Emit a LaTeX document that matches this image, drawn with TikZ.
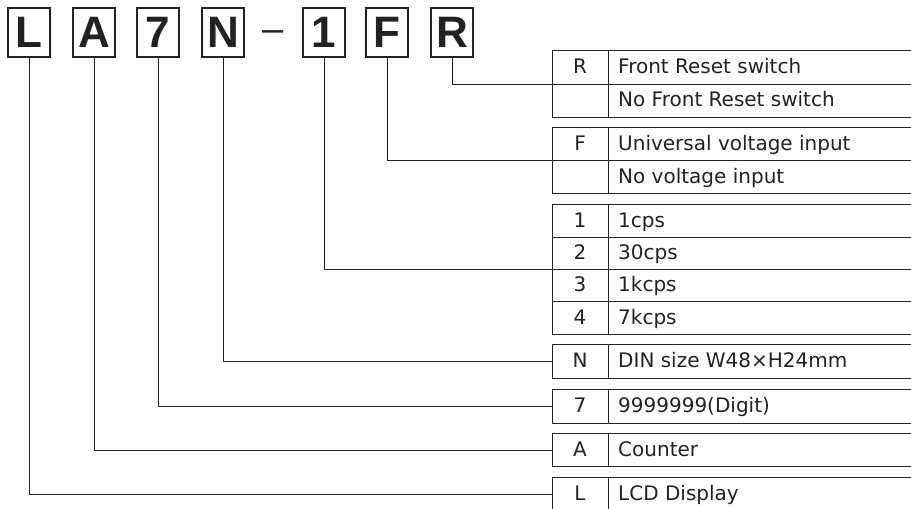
\documentclass[tikz,border=0pt]{standalone}
\usepackage{fontspec}
\usetikzlibrary{positioning,calc}
\newfontfamily\boxfont{Liberation Sans}
\newfontfamily\tabfont{DejaVu Sans}
\definecolor{ink}{HTML}{222222}

\begin{document}
\begin{tikzpicture}[x=1pt,y=-1pt,
  letter/.style={draw=ink,line width=1.5pt,minimum width=42pt,minimum height=49pt,inner sep=0pt,
    text=ink,font=\boxfont\bfseries\fontsize{44}{44}\selectfont},
  hyphen/.style={anchor=base,inner sep=0pt,text=ink,font=\boxfont\fontsize{38}{38}\selectfont},
  frame/.style={draw=ink,line width=1.3pt,anchor=north west,minimum width=400pt,inner sep=0pt},
  grid/.style={draw=ink,line width=0.7pt},
  code/.style={anchor=base,inner sep=0pt,text=ink,font=\tabfont\fontsize{20}{20}\selectfont},
  desc/.style={anchor=base west,inner sep=0pt,text=ink,font=\tabfont\fontsize{20}{20}\selectfont},
  link/.style={draw=ink,line width=0.9pt}]
\useasboundingbox (0,0) rectangle (911,509);
\clip (0,0) rectangle (911,509);

% model code boxes
\node[letter] (bL) at (29,32.5) {L};
\node[letter,right=21.5pt of bL] (bA) {A};
\node[letter,right=20.5pt of bA] (b7) {7};
\node[letter,right=21.5pt of b7] (bN) {N};
\node[hyphen] (hy) at (273,41) {–};
\node[letter,right=57.5pt of bN] (b1) {1};
\node[letter,right=19.5pt of b1] (bF) {F};
\node[letter,right=21.5pt of bF] (bR) {R};

% option tables
\node[frame,minimum height=67pt] (tR) at (552,50) {};
\node[frame,minimum height=66pt] (tF) at (552,127) {};
\node[frame,minimum height=130pt] (t1) at (552,204) {};
\node[frame,minimum height=34pt] (tN) at (552,344) {};
\node[frame,minimum height=34pt] (t7) at (552,389) {};
\node[frame,minimum height=33pt] (tA) at (552,433) {};
\node[frame,minimum height=33pt] (tL) at (552,477) {};

\foreach \t in {tR,tF,t1,tN,t7,tA,tL}
  \draw[grid] ($(\t.north west)+(56,0)$) -- ($(\t.south west)+(56,0)$);
\draw[grid] (tR.west) -- (tR.east);
\draw[grid] (tF.west) -- (tF.east);
\foreach \y in {237,269,301}
  \draw[grid] (552,\y) -- (952,\y);

\node[code] (cR) at (580,73) {R};
\node[desc] (dR) at (618,73) {Front Reset switch};
\node[desc] (dR0) at (618,106.5) {No Front Reset switch};
\node[code] (cF) at (580,150) {F};
\node[desc] (dF) at (618,150) {Universal voltage input};
\node[desc] (dF0) at (618,183) {No voltage input};
\node[code] (c1) at (580,227) {1};
\node[desc] (d1) at (618,227) {1cps};
\node[code] (c2) at (580,259.5) {2};
\node[desc] (d2) at (618,259.5) {30cps};
\node[code] (c3) at (580,291.5) {3};
\node[desc] (d3) at (618,291.5) {1kcps};
\node[code] (c4) at (580,324) {4};
\node[desc] (d4) at (618,324) {7kcps};
\node[code] (cN) at (580,367.5) {N};
\node[desc] (dN) at (618,367.5) {DIN size W48×H24mm};
\node[code] (c7) at (580,412.5) {7};
\node[desc] (d7) at (618,412.5) {9999999(Digit)};
\node[code] (cA) at (580,456) {A};
\node[desc] (dA) at (618,456) {Counter};
\node[code] (cL) at (580,500) {L};
\node[desc] (dL) at (618,500) {LCD Display};

% connectors
\draw[link] (bR.south) |- (tR.west);
\draw[link] (bF.south) |- (tF.west);
\draw[link] (b1.south) |- (t1.west);
\draw[link] (bN.south) |- (tN.west);
\draw[link] (b7.south) |- (t7.west);
\draw[link] (bA.south) |- (tA.west);
\draw[link] (bL.south) |- (tL.west);
\end{tikzpicture}
\end{document}
